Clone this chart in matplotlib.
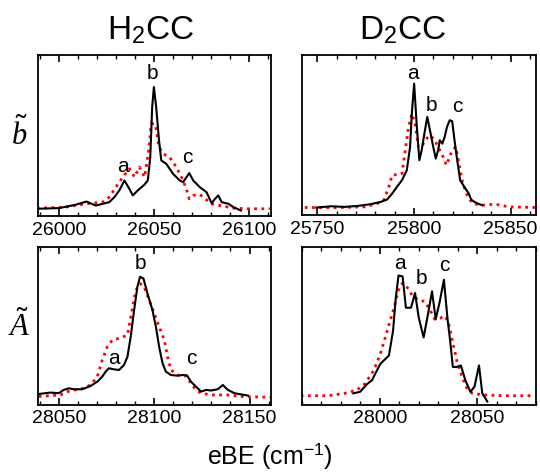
import matplotlib
matplotlib.use("Agg")
import matplotlib.pyplot as plt
from matplotlib.ticker import MultipleLocator

plt.rcParams['font.family'] = ['Liberation Sans', 'DejaVu Sans']
plt.rcParams['mathtext.fontset'] = 'custom'
plt.rcParams['mathtext.rm'] = 'Liberation Sans'
plt.rcParams['mathtext.it'] = 'Liberation Serif:italic'

# H2CC, b~ state
h_b_exp_x = [25988.5, 26000, 26008.8, 26014.5, 26019.4, 26026.5, 26029.2, 26031.8, 26034.5, 26037.1,
             26038.9, 26041.5, 26045.1, 26046.8, 26048.1, 26049.1, 26050, 26051.2, 26052.7, 26053.9,
             26056.5, 26060.1, 26063.6, 26065.4, 26068.6, 26070.7, 26074.2, 26077.7, 26080.4, 26082.2,
             26083.9, 26085.7, 26089.2, 26091.9, 26095.8]
h_b_exp_y = [0.046, 0.050, 0.071, 0.091, 0.066, 0.087, 0.118, 0.160, 0.222, 0.170,
             0.129, 0.160, 0.197, 0.222, 0.367, 0.678, 0.803, 0.678, 0.471, 0.346,
             0.326, 0.263, 0.222, 0.212, 0.268, 0.222, 0.180, 0.149, 0.081, 0.108,
             0.129, 0.087, 0.077, 0.056, 0.035]
h_b_sim_x = [25988.5, 26003.5, 26014.1, 26023, 26026.5, 26030, 26033.6, 26037.1, 26039.8, 26042.4,
             26045.1, 26047.3, 26048.6, 26050.4, 26051.2, 26052.7, 26054.8, 26058.3, 26061.8, 26064.5,
             26066.8, 26068.6, 26070.7, 26074.2, 26076.9, 26080.4, 26084.8, 26091.9, 26098.9, 26111]
h_b_sim_y = [0.050, 0.056, 0.077, 0.087, 0.118, 0.180, 0.243, 0.295, 0.243, 0.305,
             0.243, 0.409, 0.575, 0.575, 0.544, 0.430, 0.388, 0.367, 0.305, 0.243,
             0.180, 0.108, 0.129, 0.135, 0.108, 0.077, 0.066, 0.050, 0.046, 0.046]

# D2CC, b~ state
d_b_exp_x = [25749.5, 25757.2, 25764, 25770.8, 25777.6, 25782.7, 25786.1, 25788.7, 25791.2, 25793.8,
             25796.3, 25798, 25798.9, 25800.1, 25801.5, 25802.8, 25804, 25805.4, 25806.9, 25808.3,
             25810, 25811.3, 25812.5, 25813.4, 25814.7, 25815.9, 25817.1, 25818.5, 25819.8, 25821,
             25822.4, 25823.9, 25826.1, 25828.4, 25829.6, 25831.3, 25833, 25835.2]
d_b_exp_y = [0.048, 0.056, 0.052, 0.058, 0.069, 0.083, 0.098, 0.135, 0.177, 0.219,
             0.281, 0.427, 0.635, 0.823, 0.552, 0.344, 0.406, 0.510, 0.615, 0.531,
             0.427, 0.354, 0.406, 0.469, 0.448, 0.490, 0.552, 0.594, 0.588, 0.469,
             0.344, 0.219, 0.177, 0.135, 0.098, 0.083, 0.073, 0.063]
d_b_sim_x = [25743.5, 25760.6, 25774.2, 25781, 25784.4, 25787, 25788.7, 25792.1, 25793.8, 25795.5,
             25797.2, 25798.9, 25800.6, 25802.3, 25804, 25805.7, 25808.3, 25810.8, 25813.4, 25815.1,
             25816.8, 25818.5, 25819.8, 25821.6, 25822.7, 25823.9, 25825.3, 25827.9, 25830.4, 25835.5,
             25842.3, 25849.1, 25864]
d_b_sim_y = [0.048, 0.048, 0.052, 0.073, 0.094, 0.177, 0.250, 0.256, 0.260, 0.406,
             0.552, 0.635, 0.573, 0.427, 0.427, 0.469, 0.500, 0.469, 0.406, 0.365,
             0.313, 0.365, 0.406, 0.427, 0.365, 0.281, 0.198, 0.115, 0.073, 0.063,
             0.069, 0.052, 0.048]

# H2CC, A~ state
h_a_exp_x = [28039.5, 28045.6, 28050, 28052.6, 28055.3, 28057.9, 28062.3, 28066.7, 28070.2, 28072.8,
             28074.6, 28076.3, 28078.9, 28081.6, 28084.2, 28086, 28087.7, 28089.5, 28091.2, 28092.6,
             28094.4, 28096.5, 28099.1, 28100.9, 28102.6, 28104.4, 28106.1, 28108.8, 28112.3, 28114.9,
             28117.2, 28119.3, 28121.9, 28124.6, 28127.2, 28129.8, 28133.3, 28136, 28138.6, 28142.1,
             28149.1]
h_a_exp_y = [0.069, 0.078, 0.074, 0.095, 0.105, 0.099, 0.099, 0.120, 0.147, 0.179,
             0.211, 0.232, 0.225, 0.221, 0.253, 0.305, 0.432, 0.600, 0.747, 0.811,
             0.800, 0.705, 0.600, 0.495, 0.368, 0.263, 0.211, 0.189, 0.185, 0.189,
             0.187, 0.147, 0.116, 0.084, 0.095, 0.091, 0.099, 0.126, 0.095, 0.074,
             0.059]
h_a_sim_x = [28039.5, 28050.9, 28056.1, 28061.4, 28066.7, 28070.2, 28072.8, 28075.4, 28078.1, 28081.6,
             28086, 28088.1, 28090.4, 28092.6, 28094.7, 28097.4, 28100, 28102.6, 28105.3, 28107,
             28108.8, 28112.3, 28116.7, 28119.3, 28121.9, 28124.6, 28129.8, 28138.6, 28145.6, 28161]
h_a_sim_y = [0.053, 0.063, 0.091, 0.099, 0.126, 0.179, 0.284, 0.368, 0.411, 0.421,
             0.442, 0.579, 0.726, 0.768, 0.747, 0.663, 0.579, 0.495, 0.411, 0.305,
             0.221, 0.189, 0.183, 0.137, 0.095, 0.074, 0.063, 0.063, 0.053, 0.048]

# D2CC, A~ state
d_a_exp_x = [27986.4, 27989.9, 27993.4, 27996, 27997.7, 28000.3, 28004.7, 28006.8, 28008.2, 28009.6,
             28011.7, 28013.4, 28016, 28018.1, 28020, 28022.5, 28024.7, 28026.8, 28028.7, 28030.8,
             28032.9, 28034.7, 28036.1, 28037.5, 28039.5, 28041.6, 28043.9, 28046.5, 28048.6, 28050.9,
             28052.6, 28055.2]
d_a_exp_y = [0.073, 0.083, 0.131, 0.156, 0.198, 0.260, 0.313, 0.469, 0.677, 0.819,
             0.813, 0.615, 0.615, 0.708, 0.552, 0.427, 0.573, 0.719, 0.542, 0.656,
             0.792, 0.552, 0.406, 0.240, 0.240, 0.250, 0.156, 0.083, 0.115, 0.250,
             0.073, 0.021]
d_a_sim_x = [27959.4, 27973.3, 27982.1, 27988.2, 27992.5, 27996.9, 28000.3, 28003.8, 28007.3, 28009.9,
             28011.7, 28014.3, 28016.9, 28020.4, 28023, 28025.6, 28028.2, 28030.8, 28033.4, 28035.2,
             28036.9, 28039.5, 28042.2, 28044.8, 28047.4, 28053.5, 28063.9, 28078.7]
d_a_sim_y = [0.058, 0.058, 0.073, 0.094, 0.135, 0.219, 0.323, 0.469, 0.615, 0.740,
             0.771, 0.740, 0.688, 0.660, 0.656, 0.604, 0.542, 0.548, 0.563, 0.521,
             0.427, 0.281, 0.177, 0.104, 0.073, 0.063, 0.058, 0.058]

# peak label positions (label centres)
peak_names = ['a', 'b', 'c']
h_b_peaks = [(26033.6, 0.31), (26049.5, 0.886), (26067.7, 0.367)]
d_b_peaks = [(25799.5, 0.885), (25808.8, 0.688), (25822.7, 0.677)]
h_a_peaks = [(28079, 0.295), (28093, 0.895), (28119.3, 0.295)]
d_a_peaks = [(28010.3, 0.896), (28021.3, 0.798), (28033, 0.885)]

panels = [
    ([0.070, 0.543, 0.431, 0.340], (25988.9, 26111.4), h_b_exp_x, h_b_exp_y, h_b_sim_x, h_b_sim_y, h_b_peaks),
    ([0.559, 0.545, 0.433, 0.338], (25742, 25863), d_b_exp_x, d_b_exp_y, d_b_sim_x, d_b_sim_y, d_b_peaks),
    ([0.070, 0.144, 0.431, 0.334], (28039, 28161), h_a_exp_x, h_a_exp_y, h_a_sim_x, h_a_sim_y, h_a_peaks),
    ([0.559, 0.144, 0.433, 0.334], (27960, 28080), d_a_exp_x, d_a_exp_y, d_a_sim_x, d_a_sim_y, d_a_peaks),
]

fig = plt.figure(figsize=(5.4, 4.73), dpi=100)

for rect, xlim, ex, ey, sx, sy, peaks in panels:
    ax = fig.add_axes(rect)
    ax.plot(sx, sy, color='red', lw=2, linestyle=(0, (1, 1.6)))
    ax.plot(ex, ey, color='black', lw=1.5, solid_joinstyle='round')
    for name, (px, py) in zip(peak_names, peaks):
        ax.text(px, py, name, ha='center', va='center', fontsize=15)
    ax.set_xlim(*xlim)
    ax.set_ylim(0, 1)
    ax.xaxis.set_major_locator(MultipleLocator(50))
    ax.xaxis.set_minor_locator(MultipleLocator(10))
    ax.tick_params(axis='x', which='both', direction='in', top=True, bottom=True, labelsize=14, pad=4)
    ax.tick_params(axis='x', which='major', length=5, width=1.2)
    ax.tick_params(axis='x', which='minor', length=3, width=1)
    ax.set_yticks([])
    for sp in ax.spines.values():
        sp.set_linewidth(1.3)

fig.text(0.278, 0.935, 'H$_2$CC', ha='center', va='center', fontsize=24)
fig.text(0.746, 0.935, 'D$_2$CC', ha='center', va='center', fontsize=24)
fig.text(0.035, 0.715, r'$\tilde{b}$', ha='center', va='center', fontsize=22)
fig.text(0.035, 0.31, r'$\tilde{A}$', ha='center', va='center', fontsize=22)
fig.text(0.5, 0.035, 'eBE (cm$^{-1}$)', ha='center', va='center', fontsize=18)

fig.savefig('out.png', dpi=100)
